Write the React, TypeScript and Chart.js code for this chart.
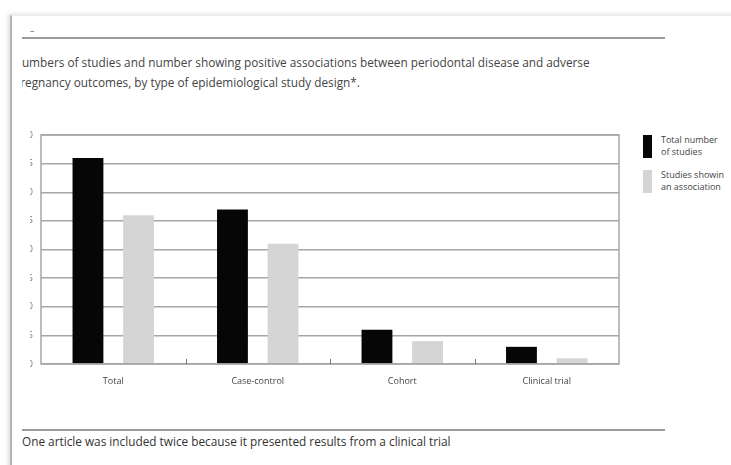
import React, { useEffect, useRef } from "react";
import { Chart, registerables } from "chart.js";

Chart.register(...registerables);

const categories = ["Total", "Case-control", "Cohort", "Clinical trial"];
const totalStudies = [36, 27, 6, 3];
const studiesShowingAssociation = [26, 21, 4, 1];
const yMin = 0;
const yMax = 40;
const yStep = 5;
const seriesLabels = ["Total number of studies", "Studies showing an association"];
const titleLines = [
  "Numbers of studies and number showing positive associations between periodontal disease and adverse",
  "pregnancy outcomes, by type of epidemiological study design*.",
];
const footnote = "One article was included twice because it presented results from a clinical trial";

const FONT = "'Open Sans', 'DejaVu Sans', sans-serif";

const framePlugin = {
  id: "frame",
  afterDatasetsDraw(chart: any) {
    const { ctx, chartArea } = chart;
    const xs = chart.scales.x;
    ctx.save();
    ctx.strokeStyle = "#a6a6a6";
    ctx.lineWidth = 1.5;
    ctx.strokeRect(chartArea.left, chartArea.top, chartArea.right - chartArea.left, chartArea.bottom - chartArea.top);
    ctx.strokeStyle = "#777";
    ctx.lineWidth = 1;
    for (let i = 1; i < categories.length; i++) {
      const x = Math.round((xs.getPixelForValue(i - 1) + xs.getPixelForValue(i)) / 2) + 0.5;
      ctx.beginPath();
      ctx.moveTo(x, chartArea.bottom);
      ctx.lineTo(x, chartArea.bottom - 5);
      ctx.stroke();
    }
    ctx.restore();
  },
};

export default function App() {
  const canvasRef = useRef<HTMLCanvasElement | null>(null);

  useEffect(() => {
    if (!canvasRef.current) return;
    const chart = new Chart(canvasRef.current, {
      type: "bar",
      data: {
        labels: categories,
        datasets: [
          {
            label: seriesLabels[0],
            data: totalStudies,
            backgroundColor: "#060606",
            borderWidth: 0,
            barPercentage: 0.61,
            categoryPercentage: 0.7,
          },
          {
            label: seriesLabels[1],
            data: studiesShowingAssociation,
            backgroundColor: "#d5d5d5",
            borderWidth: 0,
            barPercentage: 0.61,
            categoryPercentage: 0.7,
          },
        ],
      },
      options: {
        responsive: false,
        animation: false,
        layout: { padding: { top: 15, right: 11, left: 0, bottom: 0 } },
        plugins: {
          legend: { display: false },
          tooltip: { enabled: false },
          title: { display: false },
        },
        scales: {
          x: {
            grid: { display: false, drawTicks: false },
            border: { display: false },
            ticks: {
              color: "#444",
              font: { family: FONT, size: 9 },
              padding: 12,
              maxRotation: 0,
            },
            afterFit: (s: any) => {
              s.height = 31;
            },
          },
          y: {
            min: yMin,
            max: yMax,
            ticks: {
              stepSize: yStep,
              color: "#777",
              font: { family: FONT, size: 9 },
              padding: 8,
            },
            grid: { color: "#a6a6a6", lineWidth: 1.5, drawTicks: false },
            border: { display: false },
            afterFit: (s: any) => {
              s.width = 41;
            },
          },
        },
      },
      plugins: [framePlugin],
    });
    return () => chart.destroy();
  }, []);

  const textStyle: React.CSSProperties = {
    fontFamily: FONT,
    whiteSpace: "nowrap",
  };

  return (
    <div
      style={{
        position: "fixed",
        left: 0,
        top: 0,
        width: 731,
        height: 465,
        background: "#fff",
        overflow: "hidden",
      }}
    >
      <style>{"body{margin:0}"}</style>
      {/* page */}
      <div
        style={{
          position: "absolute",
          left: 10,
          top: 15,
          width: 760,
          height: 500,
          background: "#fff",
          borderLeft: "2px solid #b4b4b4",
          borderTop: "1px solid #ececec",
          boxShadow: "-2px -1px 4px rgba(0,0,0,0.12)",
        }}
      />
      <div style={{ ...textStyle, position: "absolute", left: 30, top: 24, fontSize: 9, color: "#666" }}>–</div>
      <div style={{ position: "absolute", left: 22, top: 37, width: 643, height: 2, background: "#9a9a9a" }} />

      {/* title */}
      <div style={{ position: "absolute", left: 22, top: 52, width: 640, overflow: "hidden" }}>
        <div style={{ marginLeft: -9 }}>
          {titleLines.map((t, i) => (
            <div key={i} style={{ ...textStyle, fontSize: 11.8, lineHeight: "20px", color: "#444" }}>
              {t}
            </div>
          ))}
        </div>
      </div>

      {/* chart */}
      <div style={{ position: "absolute", left: 30, top: 120, width: 600, height: 275, overflow: "hidden" }}>
        <canvas
          ref={canvasRef}
          width={630}
          height={275}
          style={{ position: "absolute", left: -30, top: 0, width: 630, height: 275 }}
        />
      </div>

      {/* legend */}
      <div style={{ position: "absolute", left: 630, top: 130, width: 94, height: 70, overflow: "hidden" }}>
        <div style={{ position: "absolute", left: 13, top: 5, width: 9, height: 23, background: "#060606" }} />
        <div style={{ ...textStyle, position: "absolute", left: 31, top: 4, fontSize: 9, lineHeight: "12px", color: "#444" }}>
          Total number
          <br />
          of studies
        </div>
        <div style={{ position: "absolute", left: 13, top: 40, width: 9, height: 23, background: "#d5d5d5" }} />
        <div style={{ ...textStyle, position: "absolute", left: 31, top: 39, fontSize: 9, lineHeight: "12px", color: "#444" }}>
          Studies showing
          <br />
          an association
        </div>
      </div>

      {/* bottom */}
      <div style={{ position: "absolute", left: 22, top: 429, width: 643, height: 2, background: "#9a9a9a" }} />
      <div style={{ ...textStyle, position: "absolute", left: 22, top: 433, fontSize: 11.8, lineHeight: "16px", color: "#333" }}>
        {footnote}
      </div>
    </div>
  );
}
